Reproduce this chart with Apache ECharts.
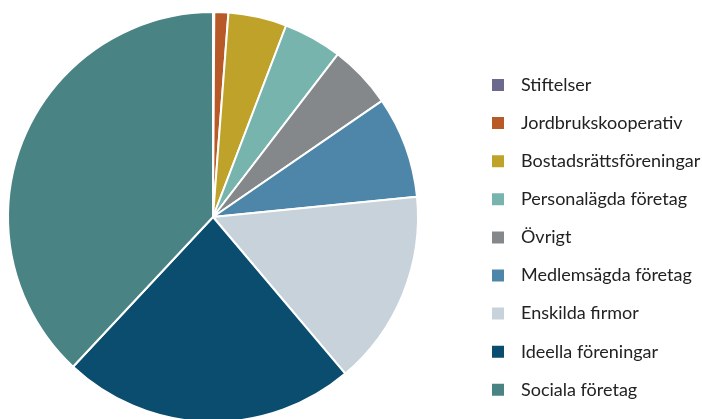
<!DOCTYPE html>
<html>
<head>
<meta charset="utf-8">
<script src="https://cdn.jsdelivr.net/npm/echarts@6/dist/echarts.min.js"></script>
<style>
  html, body { margin: 0; padding: 0; background: #ffffff; }
  #chart { width: 702px; height: 419px; }
</style>
</head>
<body>
<div id="chart"></div>
<script>
// Ownership categories and their shares (percent)
const categories = [
  'Stiftelser',
  'Jordbrukskooperativ',
  'Bostadsrättsföreningar',
  'Personalägda företag',
  'Övrigt',
  'Medlemsägda företag',
  'Enskilda firmor',
  'Ideella föreningar',
  'Sociala företag'
];
const shares = [0.1, 1.1, 4.6, 4.6, 5.0, 8.0, 15.4, 23.1, 38.0];
const colors = [
  '#6b6a8e', '#b85a27', '#bea22a', '#78b4ae', '#85888a',
  '#4e86aa', '#c7d2db', '#0b4d6e', '#4a8384'
];

const chart = echarts.init(document.getElementById('chart'), null, { renderer: 'canvas' });

chart.setOption({
  animation: false,
  color: colors,
  legend: {
    orient: 'vertical',
    left: 490,
    top: 76,
    padding: 0,
    itemWidth: 14,
    itemHeight: 14,
    itemGap: 20.1,
    icon: 'rect',
    data: categories,
    textStyle: {
      fontFamily: 'Lato',
      fontSize: 18,
      color: '#222222',
      padding: [0, 0, 0, 11]
    }
  },
  series: [{
    type: 'pie',
    center: [213, 217],
    radius: 205,
    startAngle: 90,
    clockwise: true,
    avoidLabelOverlap: false,
    label: { show: false },
    labelLine: { show: false },
    emphasis: { disabled: true },
    itemStyle: { borderColor: '#ffffff', borderWidth: 2 },
    data: categories.map((name, i) => ({ name, value: shares[i] }))
  }]
});
</script>
</body>
</html>
